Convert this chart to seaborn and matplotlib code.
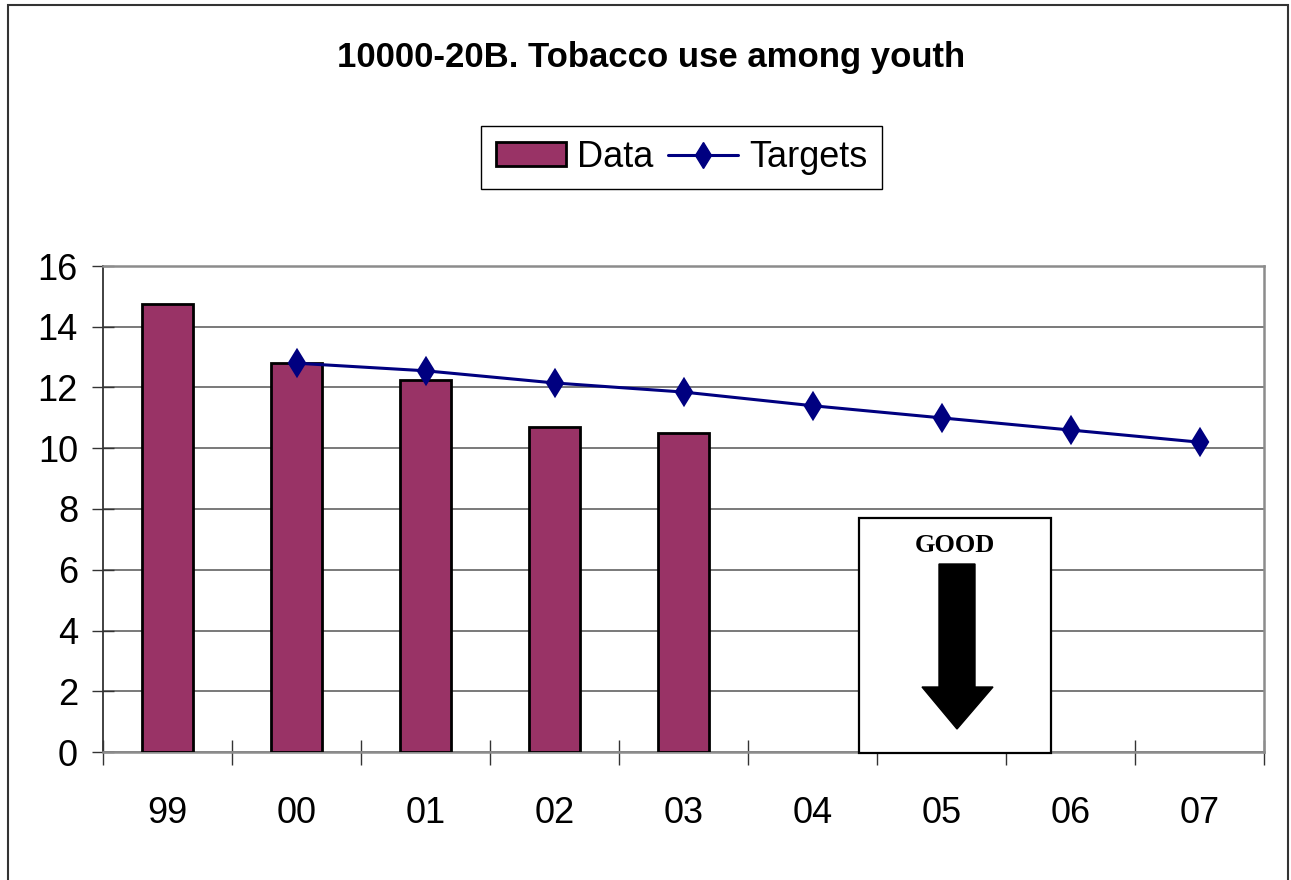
import matplotlib
matplotlib.use("Agg")
import matplotlib.pyplot as plt
import matplotlib.patches as mpatches
from matplotlib.lines import Line2D
import seaborn as sns
import pandas as pd

# values
years = ["99", "00", "01", "02", "03", "04", "05", "06", "07"]
data_years = ["99", "00", "01", "02", "03"]
data_values = [14.75, 12.8, 12.25, 10.7, 10.5]
target_years = ["00", "01", "02", "03", "04", "05", "06", "07"]
target_values = [12.8, 12.55, 12.15, 11.85, 11.4, 11.0, 10.6, 10.2]
y_ticks = [0, 2, 4, 6, 8, 10, 12, 14, 16]

W, H = 1291, 880
BAR_COLOR = "#993366"
LINE_COLOR = "#000080"

sns.set_style("white")
plt.rcParams["font.family"] = ["Liberation Sans", "DejaVu Sans"]
plt.rcParams["text.color"] = "black"
plt.rcParams["xtick.color"] = "black"
plt.rcParams["ytick.color"] = "black"

df_data = pd.DataFrame({"year": data_years, "value": data_values})
df_target = pd.DataFrame({"year": target_years, "value": target_values})

fig = plt.figure(figsize=(W / 100, H / 100), dpi=100)
ax = fig.add_axes([103 / W, 1 - 752 / H, (1264 - 103) / W, (752 - 266) / H])


def px(x, y):
    return (x / W, 1 - y / H)


sns.barplot(data=df_data, x="year", y="value", order=years, width=0.4,
            color=BAR_COLOR, saturation=1, edgecolor="black", linewidth=2.0,
            ax=ax, zorder=3)
sns.pointplot(data=df_target, x="year", y="value", order=years,
              color=LINE_COLOR, markers="d", markersize=13, linewidth=2.2,
              errorbar=None, ax=ax, zorder=4)

ax.set_xlim(-0.5, len(years) - 0.5)
ax.set_ylim(0, 16)
ax.set_xlabel("")
ax.set_ylabel("")

# y axis
ax.set_yticks(y_ticks)
ax.set_yticklabels([str(t) for t in y_ticks])
ax.tick_params(axis="y", left=True, direction="inout", length=16, width=1.0,
               color="#333333", labelcolor="black", labelsize=26, pad=10)
ax.yaxis.grid(True, color="#6e6e6e", linewidth=1.3)
ax.set_axisbelow(True)

# x axis: ticks at category edges, labels at centres
ax.set_xticks([i - 0.5 for i in range(len(years) + 1)])
ax.set_xticklabels([])
ax.set_xticks(range(len(years)), minor=True)
ax.set_xticklabels(years, minor=True)
ax.tick_params(axis="x", which="major", bottom=True, direction="inout",
               length=18, width=1.0, color="#333333")
ax.tick_params(axis="x", which="minor", bottom=True, length=0, labelsize=26,
               labelcolor="black", pad=32)

for side in ["top", "right", "bottom"]:
    ax.spines[side].set_color("#8c8c8c")
    ax.spines[side].set_linewidth(1.8)
ax.spines["left"].set_color("#333333")
ax.spines["left"].set_linewidth(1.3)

# title
fig.text(651 / W, 1 - 57 / H, "10000-20B. Tobacco use among youth",
         ha="center", va="center", fontsize=25, fontweight="bold",
         color="black")

# legend
handles = [
    mpatches.Patch(facecolor=BAR_COLOR, edgecolor="black", linewidth=2.0),
    Line2D([0], [0], color=LINE_COLOR, linewidth=2.2, marker="d",
           markersize=13),
]
leg = fig.legend(handles, ["Data", "Targets"], loc="center",
                 bbox_to_anchor=px((487 + 876) / 2, 157.5), ncol=2,
                 fontsize=26, frameon=True, fancybox=False, framealpha=1,
                 edgecolor="black", handlelength=1.95, handleheight=0.65,
                 handletextpad=0.3, columnspacing=0.4, borderpad=0.4,
                 borderaxespad=0)
leg.get_frame().set_linewidth(1.0)

# "GOOD" box with down arrow
x0, y0 = px(859, 753)
x1, y1 = px(1051, 518)
fig.patches.append(mpatches.Rectangle((x0, y0), x1 - x0, y1 - y0,
                                      transform=fig.transFigure,
                                      facecolor="white", edgecolor="black",
                                      linewidth=1.6, zorder=5))
fig.text(954.5 / W, 1 - 545 / H, "GOOD", ha="center", va="center",
         fontsize=19, fontweight="bold", color="black",
         family=["Liberation Serif", "DejaVu Serif"], zorder=6)
arrow_pts = [px(939, 564), px(975, 564), px(975, 687), px(993, 687),
             px(957, 729), px(922, 687), px(939, 687)]
fig.patches.append(mpatches.Polygon(arrow_pts, closed=True,
                                    transform=fig.transFigure,
                                    facecolor="black", edgecolor="black",
                                    zorder=6))

# outer frame of the picture
bx0, by0 = px(8, 884)
bx1, by1 = px(1288, 5)
fig.patches.append(mpatches.Rectangle((bx0, by0), bx1 - bx0, by1 - by0,
                                      transform=fig.transFigure,
                                      fill=False, edgecolor="#333333",
                                      linewidth=1.5, zorder=0))

fig.savefig("out.png", dpi=100)
